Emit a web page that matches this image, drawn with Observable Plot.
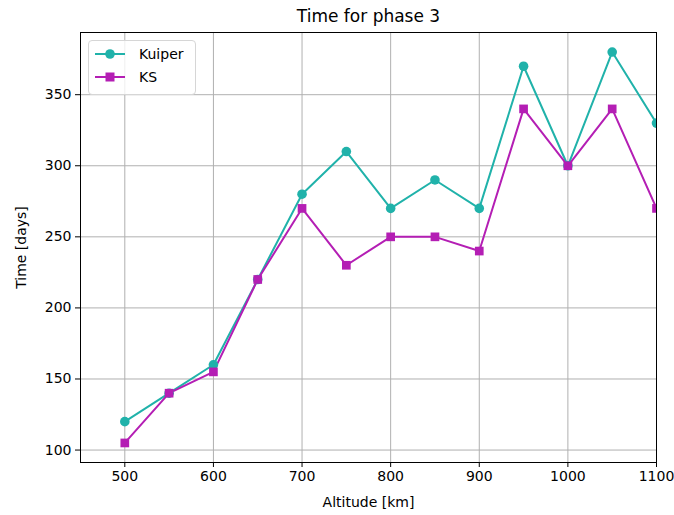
<!DOCTYPE html>
<html>
<head>
<meta charset="utf-8">
<script src="https://cdn.jsdelivr.net/npm/d3@7"></script>
<script src="https://cdn.jsdelivr.net/npm/@observablehq/plot@0.6"></script>
<style>
  html, body { margin: 0; padding: 0; background: #fff; }
  #wrap { position: relative; width: 674px; height: 515px; font-family: "DejaVu Sans", sans-serif; }
  #legend { position: absolute; left: 88px; top: 40px; width: 108px; height: 55px; border: 1px solid #d6d6d6; border-radius: 4px; background: rgba(255,255,255,0.8); box-sizing: border-box; }
  .entry { position: absolute; left: 0; height: 20px; display: flex; align-items: center; font-size: 14px; color: #000; }
  .entry svg { margin-left: 6px; margin-right: 14px; }
</style>
</head>
<body>
<div id="wrap"></div>
<script>
const title = "Time for phase 3";
const xLabel = "Altitude [km]";
const yLabel = "Time [days]";
const altitudes = [500, 550, 600, 650, 700, 750, 800, 850, 900, 950, 1000, 1050, 1100];
const kuiper = [120, 140, 160, 220, 280, 310, 270, 290, 270, 370, 300, 380, 330];
const ks = [105, 140, 155, 220, 270, 230, 250, 250, 240, 340, 300, 340, 270];
const xTicks = [500, 600, 700, 800, 900, 1000, 1100];
const yTicks = [100, 150, 200, 250, 300, 350];
const seriesNames = ["Kuiper", "KS"];
const seriesColors = ["#20b2aa", "#b41eb4"];
const seriesSymbols = ["circle", "square"];

const rows = [];
altitudes.forEach((a, i) => {
  rows.push({series: "Kuiper", x: a, y: kuiper[i]});
  rows.push({series: "KS", x: a, y: ks[i]});
});
const kRows = rows.filter(d => d.series === "Kuiper");
const sRows = rows.filter(d => d.series === "KS");

const allY = kuiper.concat(ks);
const yMin = d3.min(allY), yMax = d3.max(allY);
const pad = (yMax - yMin) * 0.05;

const chart = Plot.plot({
  width: 674,
  height: 515,
  marginLeft: 80,
  marginRight: 18,
  marginTop: 32,
  marginBottom: 53,
  style: {fontFamily: "DejaVu Sans, sans-serif", fontSize: "14px", background: "white", color: "#000", overflow: "visible"},
  x: {domain: [450, 1100]},
  y: {domain: [yMin - pad, yMax + pad]},
  marks: [
    Plot.gridX(xTicks, {stroke: "#b0b0b0", strokeOpacity: 1, strokeWidth: 1}),
    Plot.gridY(yTicks, {stroke: "#b0b0b0", strokeOpacity: 1, strokeWidth: 1}),
    Plot.line(kRows, {x: "x", y: "y", stroke: seriesColors[0], strokeWidth: 2, clip: true}),
    Plot.line(sRows, {x: "x", y: "y", stroke: seriesColors[1], strokeWidth: 2, clip: true}),
    Plot.dot(kRows, {x: "x", y: "y", fill: seriesColors[0], r: 4.8, symbol: "circle", clip: true}),
    Plot.dot(sRows, {x: "x", y: "y", fill: seriesColors[1], r: 4.9, symbol: "square", clip: true}),
    Plot.frame({stroke: "#000", strokeWidth: 1}),
    Plot.axisX({ticks: xTicks, tickFormat: "d", tickSize: 5, tickPadding: 4, fontSize: 14, label: xLabel, labelAnchor: "center", labelArrow: "none", labelOffset: 44}),
    Plot.axisY({ticks: yTicks, tickFormat: "d", tickSize: 5, tickPadding: 4, fontSize: 14, label: yLabel, labelAnchor: "center", labelArrow: "none", labelOffset: 64}),
    Plot.text([title], {frameAnchor: "top", dy: -16, fontSize: 17, lineAnchor: "middle", fill: "#000"})
  ]
});

const wrap = document.getElementById("wrap");
wrap.appendChild(chart);

const legend = document.createElement("div");
legend.id = "legend";
seriesNames.forEach((name, i) => {
  const e = document.createElement("div");
  e.className = "entry";
  e.style.top = (3 + i * 23) + "px";
  const sym = seriesSymbols[i] === "circle"
    ? `<circle cx="15" cy="10" r="4.8" fill="${seriesColors[i]}"/>`
    : `<rect x="10.5" y="5.5" width="9" height="9" fill="${seriesColors[i]}"/>`;
  e.innerHTML = `<svg width="30" height="20"><line x1="0" y1="10" x2="30" y2="10" stroke="${seriesColors[i]}" stroke-width="2"/>${sym}</svg><span>${name}</span>`;
  legend.appendChild(e);
});
wrap.appendChild(legend);
</script>
</body>
</html>
